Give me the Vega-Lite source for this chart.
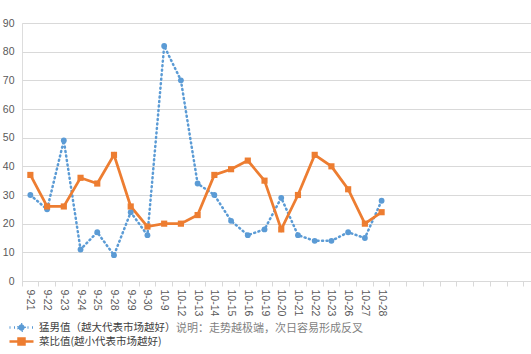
{
  "$schema": "https://vega.github.io/schema/vega-lite/v6.json",
  "width": 509,
  "height": 258,
  "autosize": {"type": "none"},
  "padding": {"left": 22, "top": 23, "right": 0, "bottom": 73},
  "background": "white",
  "title": {
    "text": "说明：走势越极端，次日容易形成反叉",
    "orient": "bottom",
    "anchor": "start",
    "frame": "group",
    "dx": 154,
    "dy": -27,
    "offset": 0,
    "font": "Noto Sans CJK SC",
    "fontSize": 11,
    "fontWeight": "normal",
    "color": "#7f7f7f"
  },
  "config": {
    "legend": {
      "title": null,
      "orient": "none",
      "padding": 0,
      "labelFont": "Noto Sans CJK SC",
      "labelFontSize": 10.5,
      "labelColor": "#404040",
      "labelOffset": 10,
      "symbolSize": 144,
      "symbolStrokeWidth": 2.5
    }
  },
  "data": {
    "values": [
      {"date": "9-21", "s": "猛男值（越大代表市场越好）", "v": 30},
      {"date": "9-22", "s": "猛男值（越大代表市场越好）", "v": 25},
      {"date": "9-23", "s": "猛男值（越大代表市场越好）", "v": 49},
      {"date": "9-24", "s": "猛男值（越大代表市场越好）", "v": 11},
      {"date": "9-25", "s": "猛男值（越大代表市场越好）", "v": 17},
      {"date": "9-28", "s": "猛男值（越大代表市场越好）", "v": 9},
      {"date": "9-29", "s": "猛男值（越大代表市场越好）", "v": 24},
      {"date": "9-30", "s": "猛男值（越大代表市场越好）", "v": 16},
      {"date": "10-9", "s": "猛男值（越大代表市场越好）", "v": 82},
      {"date": "10-12", "s": "猛男值（越大代表市场越好）", "v": 70},
      {"date": "10-13", "s": "猛男值（越大代表市场越好）", "v": 34},
      {"date": "10-14", "s": "猛男值（越大代表市场越好）", "v": 30},
      {"date": "10-15", "s": "猛男值（越大代表市场越好）", "v": 21},
      {"date": "10-16", "s": "猛男值（越大代表市场越好）", "v": 16},
      {"date": "10-19", "s": "猛男值（越大代表市场越好）", "v": 18},
      {"date": "10-20", "s": "猛男值（越大代表市场越好）", "v": 29},
      {"date": "10-21", "s": "猛男值（越大代表市场越好）", "v": 16},
      {"date": "10-22", "s": "猛男值（越大代表市场越好）", "v": 14},
      {"date": "10-23", "s": "猛男值（越大代表市场越好）", "v": 14},
      {"date": "10-26", "s": "猛男值（越大代表市场越好）", "v": 17},
      {"date": "10-27", "s": "猛男值（越大代表市场越好）", "v": 15},
      {"date": "10-28", "s": "猛男值（越大代表市场越好）", "v": 28},
      {"date": "9-21", "s": "菜比值(越小代表市场越好)", "v": 37},
      {"date": "9-22", "s": "菜比值(越小代表市场越好)", "v": 26},
      {"date": "9-23", "s": "菜比值(越小代表市场越好)", "v": 26},
      {"date": "9-24", "s": "菜比值(越小代表市场越好)", "v": 36},
      {"date": "9-25", "s": "菜比值(越小代表市场越好)", "v": 34},
      {"date": "9-28", "s": "菜比值(越小代表市场越好)", "v": 44},
      {"date": "9-29", "s": "菜比值(越小代表市场越好)", "v": 26},
      {"date": "9-30", "s": "菜比值(越小代表市场越好)", "v": 19},
      {"date": "10-9", "s": "菜比值(越小代表市场越好)", "v": 20},
      {"date": "10-12", "s": "菜比值(越小代表市场越好)", "v": 20},
      {"date": "10-13", "s": "菜比值(越小代表市场越好)", "v": 23},
      {"date": "10-14", "s": "菜比值(越小代表市场越好)", "v": 37},
      {"date": "10-15", "s": "菜比值(越小代表市场越好)", "v": 39},
      {"date": "10-16", "s": "菜比值(越小代表市场越好)", "v": 42},
      {"date": "10-19", "s": "菜比值(越小代表市场越好)", "v": 35},
      {"date": "10-20", "s": "菜比值(越小代表市场越好)", "v": 18},
      {"date": "10-21", "s": "菜比值(越小代表市场越好)", "v": 30},
      {"date": "10-22", "s": "菜比值(越小代表市场越好)", "v": 44},
      {"date": "10-23", "s": "菜比值(越小代表市场越好)", "v": 40},
      {"date": "10-26", "s": "菜比值(越小代表市场越好)", "v": 32},
      {"date": "10-27", "s": "菜比值(越小代表市场越好)", "v": 20},
      {"date": "10-28", "s": "菜比值(越小代表市场越好)", "v": 24}
    ]
  },
  "encoding": {
    "x": {
      "field": "date",
      "type": "ordinal",
      "scale": {
        "domain": ["9-21","9-22","9-23","9-24","9-25","9-28","9-29","9-30","10-9","10-12","10-13","10-14","10-15","10-16","10-19","10-20","10-21","10-22","10-23","10-26","10-27","10-28","_1","_2","_3","_4","_5","_6","_7","_8","_9"],
        "type": "band",
        "paddingInner": 0,
        "paddingOuter": 0,
        "range": [0, 518.5]
      },
      "axis": {
        "title": null,
        "bandPosition": 0,
        "labelOffset": 0,
        "labelAngle": 90,
        "labelAlign": "left",
        "labelBaseline": "middle",
        "labelPadding": 3,
        "labelExpr": "indexof(datum.label, '_') === 0 ? '' : datum.label",
        "labelFont": "Liberation Sans",
        "labelFontSize": 10.5,
        "labelColor": "#595959",
        "domainColor": "#d9d9d9",
        "tickColor": "#d9d9d9",
        "tickSize": 5,
        "grid": false,
        "labelOverlap": false
      }
    },
    "y": {
      "field": "v",
      "type": "quantitative",
      "scale": {"domain": [0, 90], "nice": false},
      "axis": {
        "title": null,
        "values": [0,10,20,30,40,50,60,70,80,90],
        "domain": false,
        "ticks": false,
        "grid": true,
        "gridColor": "#d9d9d9",
        "gridWidth": 1,
        "labelPadding": 8,
        "labelFont": "Liberation Sans",
        "labelFontSize": 10.5,
        "labelColor": "#595959"
      }
    }
  },
  "layer": [
    {
      "transform": [{"filter": "datum.s === '猛男值（越大代表市场越好）'"}],
      "mark": {"type": "line", "strokeWidth": 2.5, "strokeDash": [1, 3.5], "strokeCap": "round"},
      "encoding": {
        "stroke": {
          "field": "s",
          "type": "nominal",
          "scale": {"domain": ["猛男值（越大代表市场越好）"], "range": ["#5b9bd5"]},
          "legend": {
            "legendX": -8,
            "legendY": 297,
            "symbolType": "M-2,0H2M-0.53,0A0.53,0.53 0 1,1 0.53,0A0.53,0.53 0 1,1 -0.53,0Z",
            "symbolFillColor": "#5b9bd5",
            "symbolDash": [1, 3.5],
            "symbolOpacity": 1
          }
        }
      }
    },
    {
      "transform": [{"filter": "datum.s === '菜比值(越小代表市场越好)'"}],
      "mark": {"type": "line", "strokeWidth": 2.75},
      "encoding": {
        "color": {
          "field": "s",
          "type": "nominal",
          "scale": {"domain": ["菜比值(越小代表市场越好)"], "range": ["#ed7d31"]},
          "legend": {
            "legendX": -8,
            "legendY": 311,
            "symbolType": "M-2,0H2M-0.5,-0.5H0.5V0.5H-0.5Z",
            "symbolFillColor": "#ed7d31",
            "symbolOpacity": 1
          }
        }
      }
    },
    {
      "transform": [{"filter": "datum.s === '猛男值（越大代表市场越好）'"}],
      "mark": {"type": "point", "shape": "circle", "filled": true, "opacity": 1, "size": 34, "color": "#5b9bd5"}
    },
    {
      "transform": [{"filter": "datum.s === '菜比值(越小代表市场越好)'"}],
      "mark": {"type": "point", "shape": "square", "filled": true, "opacity": 1, "size": 38, "color": "#ed7d31"}
    }
  ]
}
